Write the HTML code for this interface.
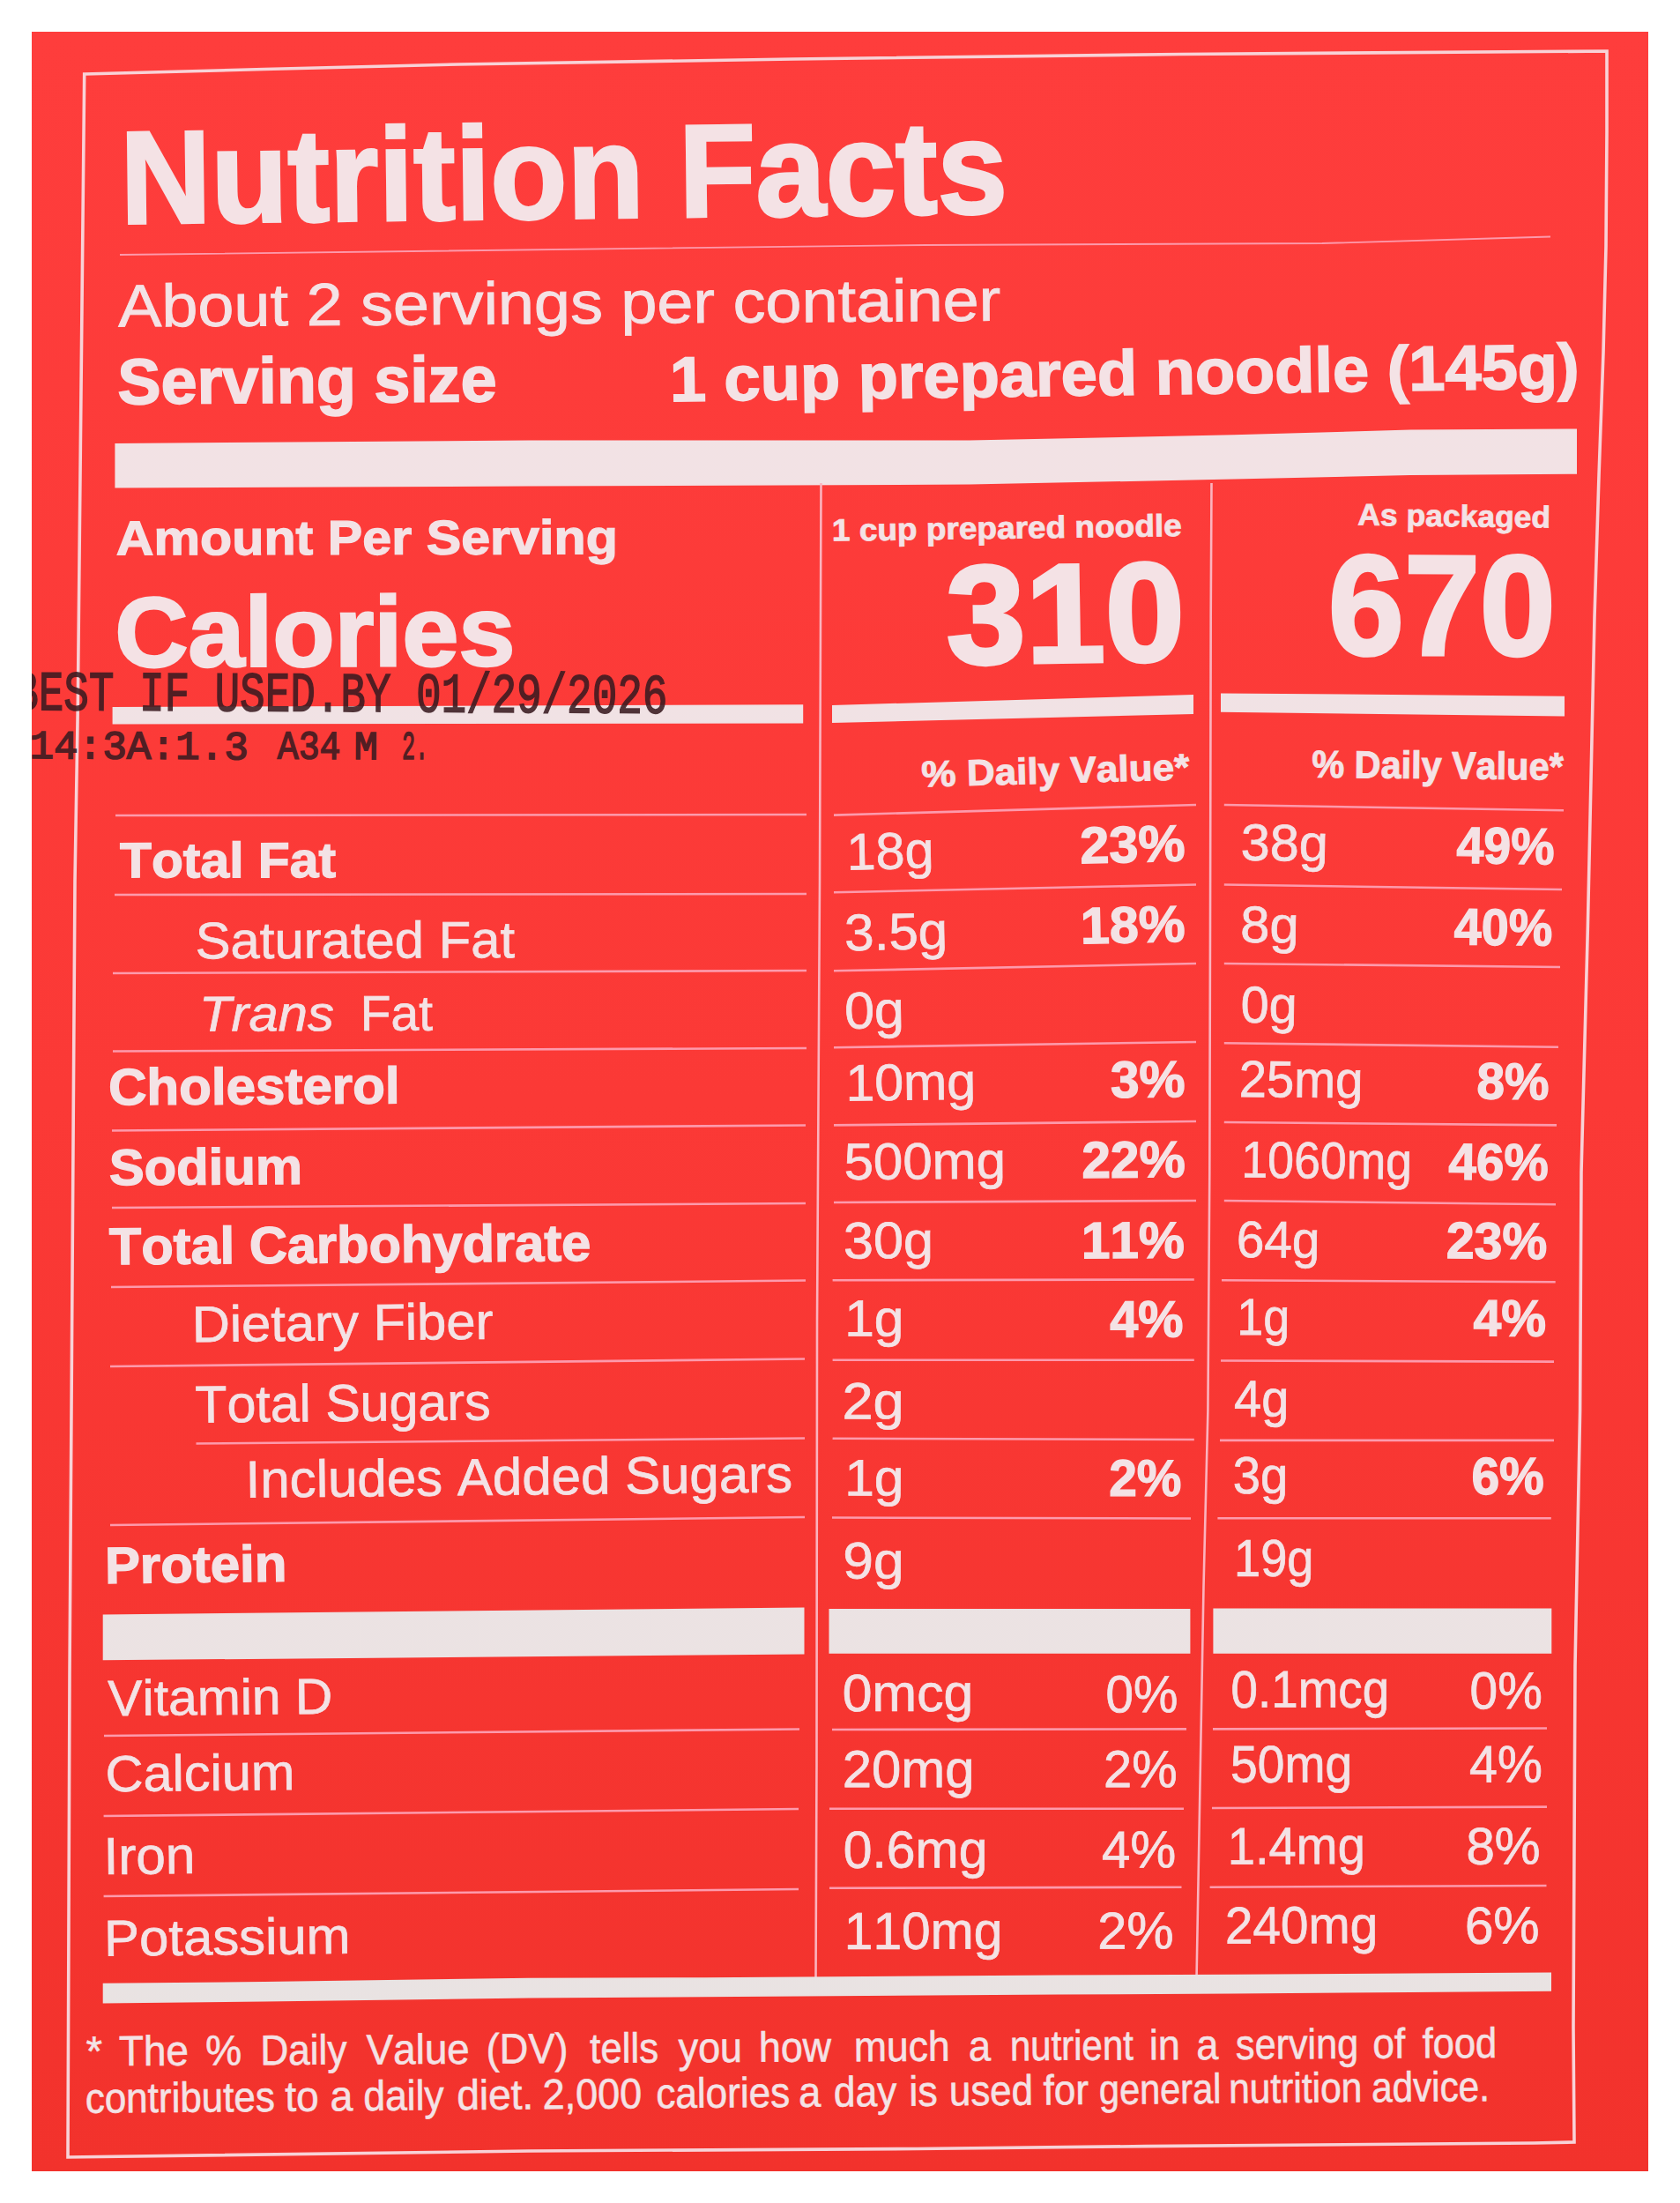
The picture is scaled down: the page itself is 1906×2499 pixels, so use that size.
<!DOCTYPE html>
<html><head><meta charset="utf-8"><title>Nutrition Facts</title>
<style>
html,body{margin:0;padding:0;background:#fff;}
body{width:1906px;height:2499px;overflow:hidden;position:relative;}
svg{position:absolute;left:0;top:0;display:block;}
text{font-family:"Liberation Sans",Arial,sans-serif;font-kerning:none;font-variant-ligatures:none;}
</style></head><body>
<svg width="1906" height="2499" viewBox="0 0 1906 2499">
<defs><linearGradient id="fg" gradientUnits="userSpaceOnUse" x1="0" y1="36" x2="0" y2="2463"><stop offset="0" stop-color="#f4e2e5"/><stop offset="0.5" stop-color="#efe2e4"/><stop offset="1" stop-color="#e8e3e2"/></linearGradient><linearGradient id="bg" x1="0" y1="0" x2="0" y2="1"><stop offset="0" stop-color="#fe3d3c"/><stop offset="0.5" stop-color="#fb3936"/><stop offset="1" stop-color="#f2322c"/></linearGradient><clipPath id="panel"><rect x="36" y="36" width="1834" height="2427"/></clipPath></defs>
<rect x="0" y="0" width="1906" height="2499" fill="#ffffff"/>
<rect x="36" y="36" width="1834" height="2427" fill="url(#bg)"/>
<polygon points="95.7,84 300,78.5 520,73 900,67 1340,61.5 1823,58 1823,150 1822,280 1819,400 1814,540 1809,700 1801.4,1050 1794,1330 1792.6,1600 1787,1890 1785,2300 1786,2430 1740,2431 1300,2434.6 1040,2437.5 600,2440 77,2447 79,1900 85,1000 88.3,800 95.7,84" fill="none" stroke="#f8d2d7" stroke-width="3.6" stroke-linejoin="miter"/>
<text transform="translate(146.48,253.48) rotate(-0.692)" x="-9.54" y="0" font-size="149.71" font-weight="bold" font-style="normal" textLength="1006.47" lengthAdjust="spacingAndGlyphs" stroke="url(#fg)" stroke-width="3.00" stroke-linejoin="miter" fill="url(#fg)">Nutrition Facts</text>
<polyline points="136,289 1050,278 1500,276 1759,268.5" fill="none" stroke="#fd9aac" stroke-width="1.8" stroke-linejoin="round"/>
<text transform="translate(134.41,370.58) rotate(-0.401)" x="-0.14" y="0" font-size="67.84" font-weight="normal" font-style="normal" textLength="1001.07" lengthAdjust="spacingAndGlyphs" stroke="url(#fg)" stroke-width="0.83" stroke-linejoin="miter" fill="url(#fg)">About 2 servings per container</text>
<text transform="translate(135.73,458.16) rotate(-0.402)" x="-2.12" y="0" font-size="73.17" font-weight="bold" font-style="normal" textLength="430.09" lengthAdjust="spacingAndGlyphs" stroke="url(#fg)" stroke-width="1.66" stroke-linejoin="miter" fill="url(#fg)">Serving size</text>
<text transform="translate(764.80,455.17) rotate(-0.838)" x="-4.66" y="0" font-size="71.76" font-weight="bold" font-style="normal" textLength="1031.82" lengthAdjust="spacingAndGlyphs" stroke="url(#fg)" stroke-width="1.63" stroke-linejoin="miter" fill="url(#fg)">1 cup prepared noodle (145g)</text>
<polygon points="130.4,502.9 600,499.5 1100,499.4 1400,493.3 1600,487.5 1789,486.4 1789,537.8 1600,539 1400,543.5 1100,549.6 600,551.5 130.4,553.5" fill="url(#fg)"/>
<polyline points="931.5,548 930,1000 927,1500 926.5,2000 925.5,2245" fill="none" stroke="#fbb3be" stroke-width="2.6" stroke-linejoin="round"/>
<polyline points="1374.5,548 1373.7,700 1373,1050 1372.3,1330 1370.4,1600 1365.5,1800 1357.6,2240" fill="none" stroke="#fbb3be" stroke-width="2.6" stroke-linejoin="round"/>
<text transform="translate(133.12,629.38) rotate(-0.101)" x="-1.47" y="0" font-size="54.87" font-weight="bold" font-style="normal" textLength="569.19" lengthAdjust="spacingAndGlyphs" stroke="url(#fg)" stroke-width="1.25" stroke-linejoin="miter" fill="url(#fg)">Amount Per Serving</text>
<text transform="translate(135.27,756.22) rotate(-0.192)" x="-4.72" y="0" font-size="112.56" font-weight="bold" font-style="normal" textLength="453.88" lengthAdjust="spacingAndGlyphs" stroke="url(#fg)" stroke-width="2.56" stroke-linejoin="miter" fill="url(#fg)">Calories</text>
<polygon points="127.6,802 911.2,799.2 911.2,820.6 127.6,821.5" fill="url(#fg)"/>
<text transform="translate(946.39,613.59) rotate(-0.800)" x="-2.33" y="0" font-size="35.18" font-weight="bold" font-style="normal" textLength="396.83" lengthAdjust="spacingAndGlyphs" stroke="url(#fg)" stroke-width="0.80" stroke-linejoin="miter" fill="url(#fg)">1 cup prepared noodle</text>
<text transform="translate(1077.79,753.16) rotate(-0.868)" x="-3.72" y="0" font-size="159.84" font-weight="bold" font-style="normal" textLength="270.78" lengthAdjust="spacingAndGlyphs" stroke="url(#fg)" stroke-width="3.63" stroke-linejoin="miter" fill="url(#fg)">310</text>
<polygon points="944,800 1354,788 1354,810 944,820" fill="url(#fg)"/>
<text transform="translate(1046.96,892.52) rotate(-1.604)" x="-1.10" y="0" font-size="41.51" font-weight="bold" font-style="normal" textLength="303.82" lengthAdjust="spacingAndGlyphs" stroke="url(#fg)" stroke-width="0.94" stroke-linejoin="miter" fill="url(#fg)">% Daily Value*</text>
<text transform="translate(1541.10,595.61) rotate(0.795)" x="-0.88" y="0" font-size="34.47" font-weight="bold" font-style="normal" textLength="218.76" lengthAdjust="spacingAndGlyphs" stroke="url(#fg)" stroke-width="0.78" stroke-linejoin="miter" fill="url(#fg)">As packaged</text>
<text transform="translate(1512.45,742.17) rotate(0.230)" x="-5.66" y="0" font-size="161.81" font-weight="bold" font-style="normal" textLength="257.72" lengthAdjust="spacingAndGlyphs" stroke="url(#fg)" stroke-width="3.68" stroke-linejoin="miter" fill="url(#fg)">670</text>
<polygon points="1385,786.4 1775,789.7 1775,812.5 1385,807.8" fill="url(#fg)"/>
<text transform="translate(1489.20,881.81) rotate(0.542)" x="-1.03" y="0" font-size="43.62" font-weight="bold" font-style="normal" textLength="285.39" lengthAdjust="spacingAndGlyphs" stroke="url(#fg)" stroke-width="0.99" stroke-linejoin="miter" fill="url(#fg)">% Daily Value*</text>
<line x1="131" y1="925" x2="915" y2="924" stroke="#fd9aac" stroke-width="2.6"/>
<line x1="130" y1="1015" x2="915" y2="1014" stroke="#fd9aac" stroke-width="2.6"/>
<line x1="128" y1="1104" x2="915" y2="1101" stroke="#fd9aac" stroke-width="2.6"/>
<line x1="128" y1="1192.5" x2="915" y2="1189" stroke="#fd9aac" stroke-width="2.6"/>
<line x1="127" y1="1282.5" x2="914" y2="1276.5" stroke="#fd9aac" stroke-width="2.6"/>
<line x1="127" y1="1370" x2="914" y2="1365" stroke="#fd9aac" stroke-width="2.6"/>
<line x1="126" y1="1460" x2="914" y2="1452.5" stroke="#fd9aac" stroke-width="2.6"/>
<line x1="125" y1="1550" x2="913" y2="1541.5" stroke="#fd9aac" stroke-width="2.6"/>
<line x1="222.5" y1="1637.5" x2="913" y2="1631.5" stroke="#fd9aac" stroke-width="2.6"/>
<line x1="125" y1="1730" x2="913" y2="1721" stroke="#fd9aac" stroke-width="2.6"/>
<line x1="118" y1="1969" x2="907" y2="1961.5" stroke="#fd9aac" stroke-width="2.6"/>
<line x1="117.6" y1="2060" x2="906" y2="2052" stroke="#fd9aac" stroke-width="2.6"/>
<line x1="117.6" y1="2151" x2="906" y2="2143" stroke="#fd9aac" stroke-width="2.6"/>
<line x1="946" y1="924.6" x2="1357" y2="913" stroke="#fd9aac" stroke-width="2.6"/>
<line x1="946" y1="1012.3" x2="1357" y2="1003.5" stroke="#fd9aac" stroke-width="2.6"/>
<line x1="946" y1="1101.3" x2="1357" y2="1093" stroke="#fd9aac" stroke-width="2.6"/>
<line x1="946" y1="1188.2" x2="1357" y2="1182" stroke="#fd9aac" stroke-width="2.6"/>
<line x1="946" y1="1276.4" x2="1357" y2="1272" stroke="#fd9aac" stroke-width="2.6"/>
<line x1="946" y1="1364" x2="1357" y2="1362" stroke="#fd9aac" stroke-width="2.6"/>
<line x1="944.6" y1="1452.3" x2="1354.8" y2="1451.5" stroke="#fd9aac" stroke-width="2.6"/>
<line x1="944.6" y1="1542.7" x2="1354.8" y2="1542.7" stroke="#fd9aac" stroke-width="2.6"/>
<line x1="944.6" y1="1631.7" x2="1354.8" y2="1633" stroke="#fd9aac" stroke-width="2.6"/>
<line x1="944" y1="1721.5" x2="1351" y2="1722.5" stroke="#fd9aac" stroke-width="2.6"/>
<line x1="944" y1="1962" x2="1346" y2="1961.4" stroke="#fd9aac" stroke-width="2.6"/>
<line x1="941" y1="2051.8" x2="1343" y2="2051.7" stroke="#fd9aac" stroke-width="2.6"/>
<line x1="941" y1="2141.8" x2="1340.5" y2="2140.7" stroke="#fd9aac" stroke-width="2.6"/>
<line x1="1388.8" y1="913" x2="1774" y2="919.2" stroke="#fd9aac" stroke-width="2.6"/>
<line x1="1388.8" y1="1003.5" x2="1772" y2="1009" stroke="#fd9aac" stroke-width="2.6"/>
<line x1="1388.8" y1="1093" x2="1770" y2="1097" stroke="#fd9aac" stroke-width="2.6"/>
<line x1="1388.8" y1="1183.3" x2="1768" y2="1187.7" stroke="#fd9aac" stroke-width="2.6"/>
<line x1="1388.8" y1="1273" x2="1766" y2="1276.4" stroke="#fd9aac" stroke-width="2.6"/>
<line x1="1388.8" y1="1362" x2="1765" y2="1366.2" stroke="#fd9aac" stroke-width="2.6"/>
<line x1="1386" y1="1452.3" x2="1764.7" y2="1454.2" stroke="#fd9aac" stroke-width="2.6"/>
<line x1="1385" y1="1543.5" x2="1763" y2="1544.6" stroke="#fd9aac" stroke-width="2.6"/>
<line x1="1384" y1="1633.9" x2="1763" y2="1633.9" stroke="#fd9aac" stroke-width="2.6"/>
<line x1="1381.4" y1="1722.3" x2="1759.8" y2="1722.3" stroke="#fd9aac" stroke-width="2.6"/>
<line x1="1376" y1="1961.4" x2="1755" y2="1960.5" stroke="#fd9aac" stroke-width="2.6"/>
<line x1="1375" y1="2051" x2="1755" y2="2049.6" stroke="#fd9aac" stroke-width="2.6"/>
<line x1="1372.6" y1="2140.7" x2="1754.5" y2="2139" stroke="#fd9aac" stroke-width="2.6"/>
<polygon points="116.7,1831.5 912.5,1823.5 912.5,1876.5 116.7,1883.3" fill="url(#fg)"/>
<polygon points="940.5,1825 1350.4,1825 1350.4,1875.7 940.5,1875.7" fill="url(#fg)"/>
<polygon points="1376.4,1824.5 1760.3,1824.5 1760.3,1875.7 1376.4,1875.7" fill="url(#fg)"/>
<polygon points="116.7,2249.8 300,2248 600,2243.8 800,2243.2 1200,2240.6 1400,2239.8 1600,2238.6 1760,2237.6 1760,2258.8 1600,2260 1400,2261.4 1200,2262.6 800,2265.2 600,2266.4 300,2270.6 116.7,2272.4" fill="url(#fg)"/>
<text transform="translate(136.64,995.36) rotate(-0.073)" x="-0.66" y="0" font-size="56.28" font-weight="bold" font-style="normal" textLength="245.10" lengthAdjust="spacingAndGlyphs" stroke="url(#fg)" stroke-width="1.28" stroke-linejoin="miter" fill="url(#fg)">Total Fat</text>
<text transform="translate(224.36,1087.14) rotate(-0.146)" x="-2.72" y="0" font-size="58.55" font-weight="normal" font-style="normal" textLength="362.44" lengthAdjust="spacingAndGlyphs" stroke="url(#fg)" stroke-width="0.72" stroke-linejoin="miter" fill="url(#fg)">Saturated Fat</text>
<text transform="translate(125.66,1253.33) rotate(-0.346)" x="-2.46" y="0" font-size="58.39" font-weight="bold" font-style="normal" textLength="330.39" lengthAdjust="spacingAndGlyphs" stroke="url(#fg)" stroke-width="1.33" stroke-linejoin="miter" fill="url(#fg)">Cholesterol</text>
<text transform="translate(125.65,1344.34) rotate(-0.400)" x="-1.72" y="0" font-size="57.69" font-weight="bold" font-style="normal" textLength="219.12" lengthAdjust="spacingAndGlyphs" stroke="url(#fg)" stroke-width="1.31" stroke-linejoin="miter" fill="url(#fg)">Sodium</text>
<text transform="translate(124.67,1434.32) rotate(-0.455)" x="-0.67" y="0" font-size="59.10" font-weight="bold" font-style="normal" textLength="546.38" lengthAdjust="spacingAndGlyphs" stroke="url(#fg)" stroke-width="1.34" stroke-linejoin="miter" fill="url(#fg)">Total Carbohydrate</text>
<text transform="translate(222.85,1522.14) rotate(-0.582)" x="-4.90" y="0" font-size="57.84" font-weight="normal" font-style="normal" textLength="341.70" lengthAdjust="spacingAndGlyphs" stroke="url(#fg)" stroke-width="0.71" stroke-linejoin="miter" fill="url(#fg)">Dietary Fiber</text>
<text transform="translate(222.86,1613.63) rotate(-0.558)" x="-1.33" y="0" font-size="59.27" font-weight="normal" font-style="normal" textLength="335.26" lengthAdjust="spacingAndGlyphs" stroke="url(#fg)" stroke-width="0.72" stroke-linejoin="miter" fill="url(#fg)">Total Sugars</text>
<text transform="translate(284.36,1698.63) rotate(-0.576)" x="-5.54" y="0" font-size="59.27" font-weight="normal" font-style="normal" textLength="620.51" lengthAdjust="spacingAndGlyphs" stroke="url(#fg)" stroke-width="0.72" stroke-linejoin="miter" fill="url(#fg)">Includes Added Sugars</text>
<text transform="translate(123.16,1795.83) rotate(-0.654)" x="-4.01" y="0" font-size="58.39" font-weight="bold" font-style="normal" textLength="206.41" lengthAdjust="spacingAndGlyphs" stroke="url(#fg)" stroke-width="1.33" stroke-linejoin="miter" fill="url(#fg)">Protein</text>
<text transform="translate(122.85,1946.15) rotate(-0.545)" x="-0.26" y="0" font-size="57.13" font-weight="normal" font-style="normal" textLength="254.89" lengthAdjust="spacingAndGlyphs" stroke="url(#fg)" stroke-width="0.70" stroke-linejoin="miter" fill="url(#fg)">Vitamin D</text>
<text transform="translate(122.85,2032.14) rotate(-0.563)" x="-3.02" y="0" font-size="57.84" font-weight="normal" font-style="normal" textLength="214.74" lengthAdjust="spacingAndGlyphs" stroke="url(#fg)" stroke-width="0.71" stroke-linejoin="miter" fill="url(#fg)">Calcium</text>
<text transform="translate(123.26,2126.03) rotate(-0.581)" x="-5.56" y="0" font-size="59.27" font-weight="normal" font-style="normal" textLength="103.86" lengthAdjust="spacingAndGlyphs" stroke="url(#fg)" stroke-width="0.72" stroke-linejoin="miter" fill="url(#fg)">Iron</text>
<text transform="translate(123.25,2218.64) rotate(-0.581)" x="-4.91" y="0" font-size="57.84" font-weight="normal" font-style="normal" textLength="279.26" lengthAdjust="spacingAndGlyphs" stroke="url(#fg)" stroke-width="0.71" stroke-linejoin="miter" fill="url(#fg)">Potassium</text>
<text transform="translate(231.34,1169.65) rotate(-0.237)" x="-5.37" y="0" font-size="56.41" font-weight="normal" font-style="italic" textLength="152.91" lengthAdjust="spacingAndGlyphs" stroke="url(#fg)" stroke-width="0.69" stroke-linejoin="miter" fill="url(#fg)">Trans</text>
<text transform="translate(413.34,1168.90) rotate(-0.237)" x="-4.68" y="0" font-size="56.41" font-weight="normal" font-style="normal" textLength="82.41" lengthAdjust="spacingAndGlyphs" stroke="url(#fg)" stroke-width="0.69" stroke-linejoin="miter" fill="url(#fg)">Fat</text>
<text transform="translate(965.55,986.63) rotate(-1.422)" x="-4.51" y="0" font-size="58.55" font-weight="normal" font-style="normal" textLength="98.84" lengthAdjust="spacingAndGlyphs" stroke="url(#fg)" stroke-width="0.72" stroke-linejoin="miter" fill="url(#fg)">18g</text>
<text transform="translate(1227.85,979.32) rotate(-1.422)" x="-2.06" y="0" font-size="58.39" font-weight="bold" font-style="normal" textLength="119.04" lengthAdjust="spacingAndGlyphs" stroke="url(#fg)" stroke-width="1.33" stroke-linejoin="miter" fill="url(#fg)">23%</text>
<text transform="translate(960.85,1078.14) rotate(-1.192)" x="-2.29" y="0" font-size="58.55" font-weight="normal" font-style="normal" textLength="116.97" lengthAdjust="spacingAndGlyphs" stroke="url(#fg)" stroke-width="0.72" stroke-linejoin="miter" fill="url(#fg)">3.5g</text>
<text transform="translate(1230.05,1070.32) rotate(-1.192)" x="-3.73" y="0" font-size="58.39" font-weight="bold" font-style="normal" textLength="118.49" lengthAdjust="spacingAndGlyphs" stroke="url(#fg)" stroke-width="1.33" stroke-linejoin="miter" fill="url(#fg)">18%</text>
<text transform="translate(960.85,1166.64) rotate(-1.011)" x="-2.38" y="0" font-size="58.55" font-weight="normal" font-style="normal" textLength="67.80" lengthAdjust="spacingAndGlyphs" stroke="url(#fg)" stroke-width="0.72" stroke-linejoin="miter" fill="url(#fg)">0g</text>
<text transform="translate(964.15,1248.64) rotate(-0.739)" x="-4.50" y="0" font-size="58.55" font-weight="normal" font-style="normal" textLength="147.81" lengthAdjust="spacingAndGlyphs" stroke="url(#fg)" stroke-width="0.72" stroke-linejoin="miter" fill="url(#fg)">10mg</text>
<text transform="translate(1261.65,1245.03) rotate(-0.739)" x="-1.34" y="0" font-size="58.39" font-weight="bold" font-style="normal" textLength="84.46" lengthAdjust="spacingAndGlyphs" stroke="url(#fg)" stroke-width="1.33" stroke-linejoin="miter" fill="url(#fg)">3%</text>
<text transform="translate(960.05,1337.94) rotate(-0.446)" x="-2.40" y="0" font-size="58.55" font-weight="normal" font-style="normal" textLength="183.56" lengthAdjust="spacingAndGlyphs" stroke="url(#fg)" stroke-width="0.72" stroke-linejoin="miter" fill="url(#fg)">500mg</text>
<text transform="translate(1229.56,1335.93) rotate(-0.446)" x="-2.03" y="0" font-size="58.39" font-weight="bold" font-style="normal" textLength="117.25" lengthAdjust="spacingAndGlyphs" stroke="url(#fg)" stroke-width="1.33" stroke-linejoin="miter" fill="url(#fg)">22%</text>
<text transform="translate(959.26,1427.44) rotate(-0.195)" x="-2.33" y="0" font-size="58.55" font-weight="normal" font-style="normal" textLength="102.16" lengthAdjust="spacingAndGlyphs" stroke="url(#fg)" stroke-width="0.72" stroke-linejoin="miter" fill="url(#fg)">30g</text>
<text transform="translate(1230.66,1427.13) rotate(-0.195)" x="-3.68" y="0" font-size="58.39" font-weight="bold" font-style="normal" textLength="116.89" lengthAdjust="spacingAndGlyphs" stroke="url(#fg)" stroke-width="1.33" stroke-linejoin="miter" fill="url(#fg)">11%</text>
<text transform="translate(962.76,1515.74) rotate(-0.056)" x="-4.61" y="0" font-size="58.55" font-weight="normal" font-style="normal" textLength="67.29" lengthAdjust="spacingAndGlyphs" stroke="url(#fg)" stroke-width="0.72" stroke-linejoin="miter" fill="url(#fg)">1g</text>
<text transform="translate(1260.16,1516.54) rotate(-0.056)" x="-0.87" y="0" font-size="58.39" font-weight="bold" font-style="normal" textLength="83.26" lengthAdjust="spacingAndGlyphs" stroke="url(#fg)" stroke-width="1.33" stroke-linejoin="miter" fill="url(#fg)">4%</text>
<text transform="translate(958.66,1609.44) rotate(0.091)" x="-3.17" y="0" font-size="58.55" font-weight="normal" font-style="normal" textLength="70.12" lengthAdjust="spacingAndGlyphs" stroke="url(#fg)" stroke-width="0.72" stroke-linejoin="miter" fill="url(#fg)">2g</text>
<text transform="translate(962.76,1696.44) rotate(0.161)" x="-4.61" y="0" font-size="58.55" font-weight="normal" font-style="normal" textLength="67.29" lengthAdjust="spacingAndGlyphs" stroke="url(#fg)" stroke-width="0.72" stroke-linejoin="miter" fill="url(#fg)">1g</text>
<text transform="translate(1260.17,1696.74) rotate(0.161)" x="-1.97" y="0" font-size="58.39" font-weight="bold" font-style="normal" textLength="82.14" lengthAdjust="spacingAndGlyphs" stroke="url(#fg)" stroke-width="1.33" stroke-linejoin="miter" fill="url(#fg)">2%</text>
<text transform="translate(959.26,1790.44) rotate(0.141)" x="-2.92" y="0" font-size="58.55" font-weight="normal" font-style="normal" textLength="69.21" lengthAdjust="spacingAndGlyphs" stroke="url(#fg)" stroke-width="0.72" stroke-linejoin="miter" fill="url(#fg)">9g</text>
<text transform="translate(958.16,1941.04) rotate(-0.086)" x="-2.37" y="0" font-size="59.27" font-weight="normal" font-style="normal" textLength="148.46" lengthAdjust="spacingAndGlyphs" stroke="url(#fg)" stroke-width="0.72" stroke-linejoin="miter" fill="url(#fg)">0mcg</text>
<text transform="translate(1256.66,1942.34) rotate(-0.086)" x="-2.22" y="0" font-size="59.27" font-weight="normal" font-style="normal" textLength="82.02" lengthAdjust="spacingAndGlyphs" stroke="url(#fg)" stroke-width="0.72" stroke-linejoin="miter" fill="url(#fg)">0%</text>
<text transform="translate(958.66,2027.24) rotate(-0.050)" x="-3.01" y="0" font-size="59.27" font-weight="normal" font-style="normal" textLength="149.85" lengthAdjust="spacingAndGlyphs" stroke="url(#fg)" stroke-width="0.72" stroke-linejoin="miter" fill="url(#fg)">20mg</text>
<text transform="translate(1254.96,2027.24) rotate(-0.050)" x="-2.91" y="0" font-size="59.27" font-weight="normal" font-style="normal" textLength="83.65" lengthAdjust="spacingAndGlyphs" stroke="url(#fg)" stroke-width="0.72" stroke-linejoin="miter" fill="url(#fg)">2%</text>
<text transform="translate(958.96,2118.64) rotate(-0.086)" x="-2.30" y="0" font-size="59.27" font-weight="normal" font-style="normal" textLength="163.78" lengthAdjust="spacingAndGlyphs" stroke="url(#fg)" stroke-width="0.72" stroke-linejoin="miter" fill="url(#fg)">0.6mg</text>
<text transform="translate(1251.36,2118.64) rotate(-0.086)" x="-1.34" y="0" font-size="59.27" font-weight="normal" font-style="normal" textLength="84.09" lengthAdjust="spacingAndGlyphs" stroke="url(#fg)" stroke-width="0.72" stroke-linejoin="miter" fill="url(#fg)">4%</text>
<text transform="translate(962.16,2211.04) rotate(-0.158)" x="-4.48" y="0" font-size="59.27" font-weight="normal" font-style="normal" textLength="179.74" lengthAdjust="spacingAndGlyphs" stroke="url(#fg)" stroke-width="0.72" stroke-linejoin="miter" fill="url(#fg)">110mg</text>
<text transform="translate(1248.16,2210.64) rotate(-0.158)" x="-3.01" y="0" font-size="59.27" font-weight="normal" font-style="normal" textLength="86.41" lengthAdjust="spacingAndGlyphs" stroke="url(#fg)" stroke-width="0.72" stroke-linejoin="miter" fill="url(#fg)">2%</text>
<text transform="translate(1409.66,975.65) rotate(0.872)" x="-2.26" y="0" font-size="58.55" font-weight="normal" font-style="normal" textLength="99.09" lengthAdjust="spacingAndGlyphs" stroke="url(#fg)" stroke-width="0.72" stroke-linejoin="miter" fill="url(#fg)">38g</text>
<text transform="translate(1653.07,978.75) rotate(0.872)" x="-0.84" y="0" font-size="58.39" font-weight="bold" font-style="normal" textLength="111.09" lengthAdjust="spacingAndGlyphs" stroke="url(#fg)" stroke-width="1.33" stroke-linejoin="miter" fill="url(#fg)">49%</text>
<text transform="translate(1409.66,1068.85) rotate(0.712)" x="-2.60" y="0" font-size="58.55" font-weight="normal" font-style="normal" textLength="66.43" lengthAdjust="spacingAndGlyphs" stroke="url(#fg)" stroke-width="0.72" stroke-linejoin="miter" fill="url(#fg)">8g</text>
<text transform="translate(1650.37,1071.34) rotate(0.712)" x="-0.84" y="0" font-size="58.39" font-weight="bold" font-style="normal" textLength="111.60" lengthAdjust="spacingAndGlyphs" stroke="url(#fg)" stroke-width="1.33" stroke-linejoin="miter" fill="url(#fg)">40%</text>
<text transform="translate(1409.66,1159.65) rotate(0.633)" x="-2.25" y="0" font-size="58.55" font-weight="normal" font-style="normal" textLength="63.94" lengthAdjust="spacingAndGlyphs" stroke="url(#fg)" stroke-width="0.72" stroke-linejoin="miter" fill="url(#fg)">0g</text>
<text transform="translate(1408.36,1243.95) rotate(0.591)" x="-2.83" y="0" font-size="58.55" font-weight="normal" font-style="normal" textLength="140.75" lengthAdjust="spacingAndGlyphs" stroke="url(#fg)" stroke-width="0.72" stroke-linejoin="miter" fill="url(#fg)">25mg</text>
<text transform="translate(1676.97,1246.34) rotate(0.591)" x="-1.80" y="0" font-size="58.39" font-weight="bold" font-style="normal" textLength="82.18" lengthAdjust="spacingAndGlyphs" stroke="url(#fg)" stroke-width="1.33" stroke-linejoin="miter" fill="url(#fg)">8%</text>
<text transform="translate(1412.36,1335.65) rotate(0.578)" x="-4.08" y="0" font-size="58.55" font-weight="normal" font-style="normal" textLength="193.63" lengthAdjust="spacingAndGlyphs" stroke="url(#fg)" stroke-width="0.72" stroke-linejoin="miter" fill="url(#fg)">1060mg</text>
<text transform="translate(1644.07,1337.64) rotate(0.578)" x="-0.86" y="0" font-size="58.39" font-weight="bold" font-style="normal" textLength="113.33" lengthAdjust="spacingAndGlyphs" stroke="url(#fg)" stroke-width="1.33" stroke-linejoin="miter" fill="url(#fg)">46%</text>
<text transform="translate(1405.56,1426.05) rotate(0.464)" x="-2.88" y="0" font-size="58.55" font-weight="normal" font-style="normal" textLength="94.62" lengthAdjust="spacingAndGlyphs" stroke="url(#fg)" stroke-width="0.72" stroke-linejoin="miter" fill="url(#fg)">64g</text>
<text transform="translate(1642.67,1427.14) rotate(0.464)" x="-1.98" y="0" font-size="58.39" font-weight="bold" font-style="normal" textLength="114.47" lengthAdjust="spacingAndGlyphs" stroke="url(#fg)" stroke-width="1.33" stroke-linejoin="miter" fill="url(#fg)">23%</text>
<text transform="translate(1407.36,1514.14) rotate(0.227)" x="-4.10" y="0" font-size="58.55" font-weight="normal" font-style="normal" textLength="59.85" lengthAdjust="spacingAndGlyphs" stroke="url(#fg)" stroke-width="0.72" stroke-linejoin="miter" fill="url(#fg)">1g</text>
<text transform="translate(1672.27,1515.34) rotate(0.227)" x="-0.86" y="0" font-size="58.39" font-weight="bold" font-style="normal" textLength="82.44" lengthAdjust="spacingAndGlyphs" stroke="url(#fg)" stroke-width="1.33" stroke-linejoin="miter" fill="url(#fg)">4%</text>
<text transform="translate(1401.36,1606.64) rotate(0.083)" x="-1.28" y="0" font-size="58.55" font-weight="normal" font-style="normal" textLength="62.17" lengthAdjust="spacingAndGlyphs" stroke="url(#fg)" stroke-width="0.72" stroke-linejoin="miter" fill="url(#fg)">4g</text>
<text transform="translate(1400.86,1694.34) rotate(0.000)" x="-2.14" y="0" font-size="58.55" font-weight="normal" font-style="normal" textLength="62.55" lengthAdjust="spacingAndGlyphs" stroke="url(#fg)" stroke-width="0.72" stroke-linejoin="miter" fill="url(#fg)">3g</text>
<text transform="translate(1671.46,1694.54) rotate(0.000)" x="-2.09" y="0" font-size="58.39" font-weight="bold" font-style="normal" textLength="82.47" lengthAdjust="spacingAndGlyphs" stroke="url(#fg)" stroke-width="1.33" stroke-linejoin="miter" fill="url(#fg)">6%</text>
<text transform="translate(1404.16,1787.64) rotate(0.000)" x="-4.13" y="0" font-size="58.55" font-weight="normal" font-style="normal" textLength="90.40" lengthAdjust="spacingAndGlyphs" stroke="url(#fg)" stroke-width="0.72" stroke-linejoin="miter" fill="url(#fg)">19g</text>
<text transform="translate(1398.66,1936.94) rotate(-0.136)" x="-2.14" y="0" font-size="59.27" font-weight="normal" font-style="normal" textLength="179.65" lengthAdjust="spacingAndGlyphs" stroke="url(#fg)" stroke-width="0.72" stroke-linejoin="miter" fill="url(#fg)">0.1mcg</text>
<text transform="translate(1669.76,1938.24) rotate(-0.136)" x="-2.23" y="0" font-size="59.27" font-weight="normal" font-style="normal" textLength="82.44" lengthAdjust="spacingAndGlyphs" stroke="url(#fg)" stroke-width="0.72" stroke-linejoin="miter" fill="url(#fg)">0%</text>
<text transform="translate(1398.16,2021.84) rotate(-0.174)" x="-2.21" y="0" font-size="59.27" font-weight="normal" font-style="normal" textLength="138.25" lengthAdjust="spacingAndGlyphs" stroke="url(#fg)" stroke-width="0.72" stroke-linejoin="miter" fill="url(#fg)">50mg</text>
<text transform="translate(1668.36,2021.84) rotate(-0.174)" x="-1.32" y="0" font-size="59.27" font-weight="normal" font-style="normal" textLength="82.94" lengthAdjust="spacingAndGlyphs" stroke="url(#fg)" stroke-width="0.72" stroke-linejoin="miter" fill="url(#fg)">4%</text>
<text transform="translate(1397.06,2114.64) rotate(-0.233)" x="-4.28" y="0" font-size="59.27" font-weight="normal" font-style="normal" textLength="156.07" lengthAdjust="spacingAndGlyphs" stroke="url(#fg)" stroke-width="0.72" stroke-linejoin="miter" fill="url(#fg)">1.4mg</text>
<text transform="translate(1665.96,2114.64) rotate(-0.233)" x="-2.53" y="0" font-size="59.27" font-weight="normal" font-style="normal" textLength="84.29" lengthAdjust="spacingAndGlyphs" stroke="url(#fg)" stroke-width="0.72" stroke-linejoin="miter" fill="url(#fg)">8%</text>
<text transform="translate(1392.76,2204.64) rotate(-0.255)" x="-2.85" y="0" font-size="59.27" font-weight="normal" font-style="normal" textLength="173.38" lengthAdjust="spacingAndGlyphs" stroke="url(#fg)" stroke-width="0.72" stroke-linejoin="miter" fill="url(#fg)">240mg</text>
<text transform="translate(1664.86,2204.64) rotate(-0.255)" x="-2.97" y="0" font-size="59.27" font-weight="normal" font-style="normal" textLength="84.64" lengthAdjust="spacingAndGlyphs" stroke="url(#fg)" stroke-width="0.72" stroke-linejoin="miter" fill="url(#fg)">6%</text>
<text transform="translate(98.54,2343.31) rotate(-0.338)" x="-0.76" y="0" font-size="47.97" font-weight="normal" font-style="normal" textLength="18.41" lengthAdjust="spacingAndGlyphs" stroke="url(#fg)" stroke-width="0.60" stroke-linejoin="miter" fill="url(#fg)">*</text>
<text transform="translate(136.00,2343.09) rotate(-0.338)" x="-1.03" y="0" font-size="47.97" font-weight="normal" font-style="normal" textLength="79.06" lengthAdjust="spacingAndGlyphs" stroke="url(#fg)" stroke-width="0.60" stroke-linejoin="miter" fill="url(#fg)">The</text>
<text transform="translate(234.89,2342.50) rotate(-0.338)" x="-1.64" y="0" font-size="47.97" font-weight="normal" font-style="normal" textLength="41.01" lengthAdjust="spacingAndGlyphs" stroke="url(#fg)" stroke-width="0.60" stroke-linejoin="miter" fill="url(#fg)">%</text>
<text transform="translate(299.00,2342.13) rotate(-0.338)" x="-3.62" y="0" font-size="47.97" font-weight="normal" font-style="normal" textLength="98.11" lengthAdjust="spacingAndGlyphs" stroke="url(#fg)" stroke-width="0.60" stroke-linejoin="miter" fill="url(#fg)">Daily</text>
<text transform="translate(416.00,2341.44) rotate(-0.338)" x="-0.20" y="0" font-size="47.97" font-weight="normal" font-style="normal" textLength="116.93" lengthAdjust="spacingAndGlyphs" stroke="url(#fg)" stroke-width="0.60" stroke-linejoin="miter" fill="url(#fg)">Value</text>
<text transform="translate(554.60,2340.62) rotate(-0.338)" x="-2.80" y="0" font-size="47.97" font-weight="normal" font-style="normal" textLength="92.80" lengthAdjust="spacingAndGlyphs" stroke="url(#fg)" stroke-width="0.60" stroke-linejoin="miter" fill="url(#fg)">(DV)</text>
<text transform="translate(669.90,2339.94) rotate(-0.338)" x="-0.66" y="0" font-size="47.97" font-weight="normal" font-style="normal" textLength="77.95" lengthAdjust="spacingAndGlyphs" stroke="url(#fg)" stroke-width="0.60" stroke-linejoin="miter" fill="url(#fg)">tells</text>
<text transform="translate(769.80,2339.35) rotate(-0.338)" x="-0.11" y="0" font-size="47.97" font-weight="normal" font-style="normal" textLength="72.40" lengthAdjust="spacingAndGlyphs" stroke="url(#fg)" stroke-width="0.60" stroke-linejoin="miter" fill="url(#fg)">you</text>
<text transform="translate(864.20,2338.80) rotate(-0.338)" x="-3.10" y="0" font-size="47.97" font-weight="normal" font-style="normal" textLength="81.99" lengthAdjust="spacingAndGlyphs" stroke="url(#fg)" stroke-width="0.60" stroke-linejoin="miter" fill="url(#fg)">how</text>
<text transform="translate(971.95,2338.16) rotate(-0.338)" x="-2.95" y="0" font-size="47.97" font-weight="normal" font-style="normal" textLength="108.63" lengthAdjust="spacingAndGlyphs" stroke="url(#fg)" stroke-width="0.60" stroke-linejoin="miter" fill="url(#fg)">much</text>
<text transform="translate(1100.79,2337.40) rotate(-0.338)" x="-1.92" y="0" font-size="47.97" font-weight="normal" font-style="normal" textLength="25.13" lengthAdjust="spacingAndGlyphs" stroke="url(#fg)" stroke-width="0.60" stroke-linejoin="miter" fill="url(#fg)">a</text>
<text transform="translate(1148.80,2337.12) rotate(-0.338)" x="-2.79" y="0" font-size="47.97" font-weight="normal" font-style="normal" textLength="139.89" lengthAdjust="spacingAndGlyphs" stroke="url(#fg)" stroke-width="0.60" stroke-linejoin="miter" fill="url(#fg)">nutrient</text>
<text transform="translate(1306.98,2336.19) rotate(-0.338)" x="-2.98" y="0" font-size="47.97" font-weight="normal" font-style="normal" textLength="34.73" lengthAdjust="spacingAndGlyphs" stroke="url(#fg)" stroke-width="0.60" stroke-linejoin="miter" fill="url(#fg)">in</text>
<text transform="translate(1359.30,2335.88) rotate(-0.338)" x="-1.90" y="0" font-size="47.97" font-weight="normal" font-style="normal" textLength="24.90" lengthAdjust="spacingAndGlyphs" stroke="url(#fg)" stroke-width="0.60" stroke-linejoin="miter" fill="url(#fg)">a</text>
<text transform="translate(1403.30,2335.62) rotate(-0.338)" x="-1.20" y="0" font-size="47.97" font-weight="normal" font-style="normal" textLength="139.08" lengthAdjust="spacingAndGlyphs" stroke="url(#fg)" stroke-width="0.60" stroke-linejoin="miter" fill="url(#fg)">serving</text>
<text transform="translate(1559.43,2334.70) rotate(-0.338)" x="-1.85" y="0" font-size="47.97" font-weight="normal" font-style="normal" textLength="36.73" lengthAdjust="spacingAndGlyphs" stroke="url(#fg)" stroke-width="0.60" stroke-linejoin="miter" fill="url(#fg)">of</text>
<text transform="translate(1614.30,2334.37) rotate(-0.338)" x="-0.62" y="0" font-size="47.97" font-weight="normal" font-style="normal" textLength="84.62" lengthAdjust="spacingAndGlyphs" stroke="url(#fg)" stroke-width="0.60" stroke-linejoin="miter" fill="url(#fg)">food</text>
<text transform="translate(98.80,2396.70) rotate(-0.490)" x="-1.87" y="0" font-size="47.97" font-weight="normal" font-style="normal" textLength="214.96" lengthAdjust="spacingAndGlyphs" stroke="url(#fg)" stroke-width="0.60" stroke-linejoin="miter" fill="url(#fg)">contributes</text>
<text transform="translate(324.11,2394.77) rotate(-0.490)" x="-0.70" y="0" font-size="47.97" font-weight="normal" font-style="normal" textLength="38.30" lengthAdjust="spacingAndGlyphs" stroke="url(#fg)" stroke-width="0.60" stroke-linejoin="miter" fill="url(#fg)">to</text>
<text transform="translate(376.73,2394.32) rotate(-0.490)" x="-1.96" y="0" font-size="47.97" font-weight="normal" font-style="normal" textLength="25.71" lengthAdjust="spacingAndGlyphs" stroke="url(#fg)" stroke-width="0.60" stroke-linejoin="miter" fill="url(#fg)">a</text>
<text transform="translate(414.30,2394.00) rotate(-0.490)" x="-1.87" y="0" font-size="47.97" font-weight="normal" font-style="normal" textLength="91.36" lengthAdjust="spacingAndGlyphs" stroke="url(#fg)" stroke-width="0.60" stroke-linejoin="miter" fill="url(#fg)">daily</text>
<text transform="translate(520.30,2393.09) rotate(-0.490)" x="-1.93" y="0" font-size="47.97" font-weight="normal" font-style="normal" textLength="86.93" lengthAdjust="spacingAndGlyphs" stroke="url(#fg)" stroke-width="0.60" stroke-linejoin="miter" fill="url(#fg)">diet.</text>
<text transform="translate(617.90,2392.26) rotate(-0.490)" x="-2.26" y="0" font-size="47.97" font-weight="normal" font-style="normal" textLength="112.63" lengthAdjust="spacingAndGlyphs" stroke="url(#fg)" stroke-width="0.60" stroke-linejoin="miter" fill="url(#fg)">2,000</text>
<text transform="translate(746.30,2391.16) rotate(-0.490)" x="-1.87" y="0" font-size="47.97" font-weight="normal" font-style="normal" textLength="151.87" lengthAdjust="spacingAndGlyphs" stroke="url(#fg)" stroke-width="0.60" stroke-linejoin="miter" fill="url(#fg)">calories</text>
<text transform="translate(908.15,2389.77) rotate(-0.490)" x="-1.92" y="0" font-size="47.97" font-weight="normal" font-style="normal" textLength="25.11" lengthAdjust="spacingAndGlyphs" stroke="url(#fg)" stroke-width="0.60" stroke-linejoin="miter" fill="url(#fg)">a</text>
<text transform="translate(947.91,2389.43) rotate(-0.490)" x="-1.86" y="0" font-size="47.97" font-weight="normal" font-style="normal" textLength="71.32" lengthAdjust="spacingAndGlyphs" stroke="url(#fg)" stroke-width="0.60" stroke-linejoin="miter" fill="url(#fg)">day</text>
<text transform="translate(1034.46,2388.69) rotate(-0.490)" x="-2.99" y="0" font-size="47.97" font-weight="normal" font-style="normal" textLength="32.27" lengthAdjust="spacingAndGlyphs" stroke="url(#fg)" stroke-width="0.60" stroke-linejoin="miter" fill="url(#fg)">is</text>
<text transform="translate(1079.88,2388.30) rotate(-0.490)" x="-2.85" y="0" font-size="47.97" font-weight="normal" font-style="normal" textLength="95.11" lengthAdjust="spacingAndGlyphs" stroke="url(#fg)" stroke-width="0.60" stroke-linejoin="miter" fill="url(#fg)">used</text>
<text transform="translate(1184.45,2387.41) rotate(-0.490)" x="-0.62" y="0" font-size="47.97" font-weight="normal" font-style="normal" textLength="51.26" lengthAdjust="spacingAndGlyphs" stroke="url(#fg)" stroke-width="0.60" stroke-linejoin="miter" fill="url(#fg)">for</text>
<text transform="translate(1248.80,2386.86) rotate(-0.490)" x="-1.74" y="0" font-size="47.97" font-weight="normal" font-style="normal" textLength="138.42" lengthAdjust="spacingAndGlyphs" stroke="url(#fg)" stroke-width="0.60" stroke-linejoin="miter" fill="url(#fg)">general</text>
<text transform="translate(1397.00,2385.59) rotate(-0.490)" x="-2.82" y="0" font-size="47.97" font-weight="normal" font-style="normal" textLength="151.29" lengthAdjust="spacingAndGlyphs" stroke="url(#fg)" stroke-width="0.60" stroke-linejoin="miter" fill="url(#fg)">nutrition</text>
<text transform="translate(1558.10,2384.21) rotate(-0.490)" x="-1.79" y="0" font-size="47.97" font-weight="normal" font-style="normal" textLength="133.75" lengthAdjust="spacingAndGlyphs" stroke="url(#fg)" stroke-width="0.60" stroke-linejoin="miter" fill="url(#fg)">advice.</text>
<g clip-path="url(#panel)">
<text transform="translate(19.00,805.00) rotate(0.300)" x="-3.76" y="0" style="font-family:'Liberation Mono',monospace" font-weight="normal" font-size="63.76" textLength="742.05" lengthAdjust="spacingAndGlyphs" fill="#3a1b21" stroke="#3a1b21" stroke-width="1.6" opacity="0.88">BEST IF USED.BY 01/29/2026</text>
<text transform="translate(37.00,860.00) rotate(0.300)" x="-3.64" y="0" style="font-family:'Liberation Mono',monospace" font-weight="normal" font-size="45.54" textLength="248.37" lengthAdjust="spacingAndGlyphs" fill="#3a1b21" stroke="#3a1b21" stroke-width="1.6" opacity="0.88">14:3A:1.3</text>
<text transform="translate(318.00,860.50) rotate(0.300)" x="-3.15" y="0" style="font-family:'Liberation Mono',monospace" font-weight="normal" font-size="45.54" textLength="71.64" lengthAdjust="spacingAndGlyphs" fill="#3a1b21" stroke="#3a1b21" stroke-width="1.6" opacity="0.88">A34</text>
<text transform="translate(405.00,861.00) rotate(0.300)" x="-3.60" y="0" style="font-family:'Liberation Mono',monospace" font-weight="normal" font-size="45.54" textLength="27.31" lengthAdjust="spacingAndGlyphs" fill="#3a1b21" stroke="#3a1b21" stroke-width="1.6" opacity="0.88">M</text>
<text transform="translate(458.00,861.00) rotate(0.300)" x="-1.97" y="0" style="font-family:'Liberation Mono',monospace" font-weight="normal" font-size="45.54" textLength="29.91" lengthAdjust="spacingAndGlyphs" fill="#3a1b21" stroke="#3a1b21" stroke-width="1.6" opacity="0.88">2.</text>
</g>
</svg>
</body></html>
